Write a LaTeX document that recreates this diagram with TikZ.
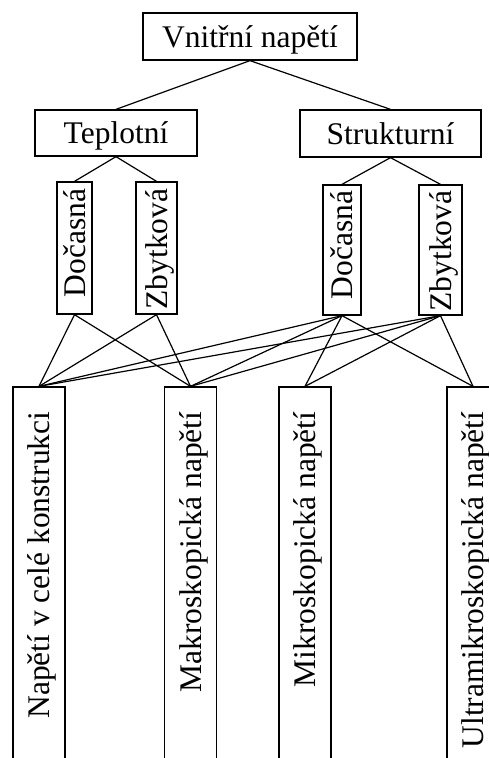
\documentclass[tikz,border=0pt]{standalone}
\usepackage{fontspec}
\setmainfont{Liberation Serif}
\begin{document}
\begin{tikzpicture}[x=1pt,y=-1pt,
  box/.style={draw,line width=1.3pt,inner sep=0pt},
  lbl/.style={font=\fontsize{31.5}{36}\selectfont,inner sep=0pt,text height=27pt,text depth=6pt},
  vlbl/.style={lbl,rotate=90,anchor=east},
  link/.style={line width=1.2pt}]
\useasboundingbox (0,0) rectangle (489,758);
\clip (0,0) rectangle (489,758);
% top level
\node[box,lbl,minimum width=214pt,minimum height=47pt] (top) at (250,36.5) {Vnitřní napětí};
% second level
\node[box,lbl,minimum width=162pt,minimum height=46pt] (tep) at (116,133) {Teplotní};
\node[box,lbl,minimum width=181pt,minimum height=47pt] (str) at (390.5,133.5) {Strukturní};
% third level
\node[box,minimum width=35pt,minimum height=132pt] (dt) at (74.5,248) {};
\node[box,minimum width=41pt,minimum height=132pt] (zt) at (156.5,248) {};
\node[box,minimum width=38pt,minimum height=130pt] (ds) at (342,250) {};
\node[box,minimum width=43pt,minimum height=130pt] (zs) at (440.5,250) {};
\node[vlbl] (dtl) at ([yshift=-7pt]dt.north) {Dočasná};
\node[vlbl] (ztl) at ([yshift=-7pt]zt.north) {Zbytková};
\node[vlbl] (dsl) at ([yshift=-6pt]ds.north) {Dočasná};
\node[vlbl] (zsl) at ([yshift=-6pt]zs.north) {Zbytková};
% bottom level
\node[box,minimum width=52pt,minimum height=400pt] (b1) at (39,587) {};
\node[box,minimum width=52pt,minimum height=400pt] (b2) at (190.5,587) {};
\node[box,minimum width=52pt,minimum height=400pt] (b3) at (305,587) {};
\node[box,minimum width=52pt,minimum height=400pt] (b4) at (473,587) {};
\node[vlbl] (b1l) at ([yshift=-25pt]b1.north) {Napětí v celé konstrukci};
\node[vlbl] (b2l) at ([yshift=-25pt]b2.north) {Makroskopická napětí};
\node[vlbl] (b3l) at ([yshift=-25pt]b3.north) {Mikroskopická napětí};
\node[vlbl] (b4l) at ([yshift=-25pt]b4.north) {Ultramikroskopická napětí};
% connectors
\draw[link] (top.south) -- (tep.north);
\draw[link] (top.south) -- (str.north);
\draw[link] (tep.south) -- (dt.north);
\draw[link] (tep.south) -- (zt.north);
\draw[link] (str.south) -- (ds.north);
\draw[link] (str.south) -- (zs.north);
\foreach \s in {dt,zt}{
  \foreach \t in {b1,b2}{
    \draw[link] (\s.south) -- (\t.north);
  }
}
\foreach \s in {ds,zs}{
  \foreach \t in {b1,b2,b3,b4}{
    \draw[link] (\s.south) -- (\t.north);
  }
}
\end{tikzpicture}
\end{document}
